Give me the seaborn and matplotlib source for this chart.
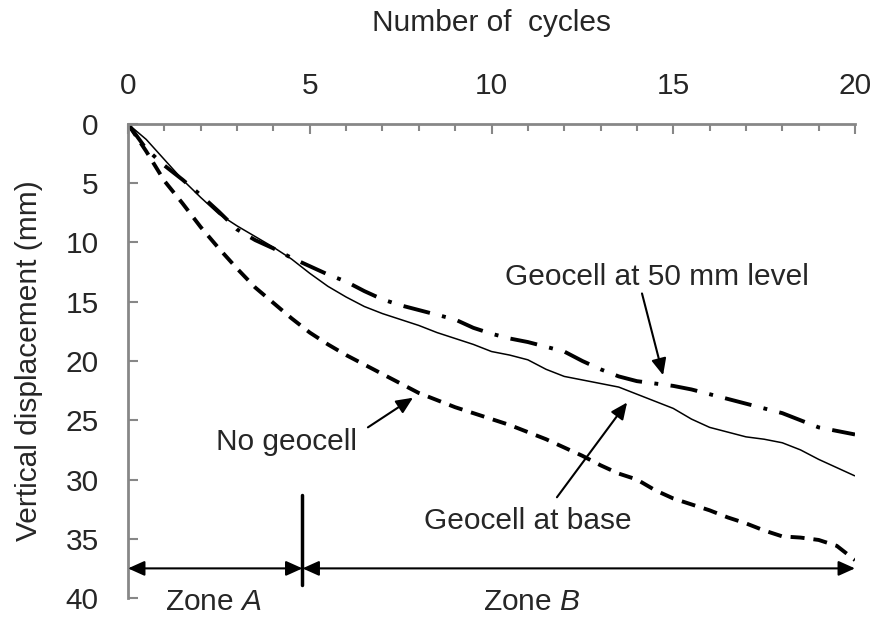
import matplotlib
matplotlib.use("Agg")
import matplotlib.pyplot as plt
import numpy as np
import pandas as pd
import seaborn as sns

# Settlement vs. loading cycles for three test configurations
cycles = [0, 0.5, 1, 1.5, 2, 2.5, 3, 3.5, 4, 4.5, 5, 5.5, 6, 6.5, 7, 7.5, 8, 8.5, 9, 9.5,
          10, 10.5, 11, 11.5, 12, 12.5, 13, 13.5, 14, 14.5, 15, 15.5, 16, 16.5, 17, 17.5,
          18, 18.5, 19, 19.5, 20]

no_geocell = [0, 2.3, 4.8, 6.7, 8.7, 10.5, 12.2, 13.8, 15.1, 16.4, 17.6, 18.6, 19.5, 20.3,
              21.1, 21.9, 22.7, 23.3, 23.9, 24.4, 24.9, 25.4, 26.0, 26.6, 27.3, 28.0, 28.8,
              29.5, 30.0, 30.9, 31.6, 32.1, 32.6, 33.2, 33.7, 34.3, 34.8, 34.9, 35.1, 35.6, 36.8]

geocell_base = [0, 1.3, 3.0, 4.7, 6.2, 7.6, 8.6, 9.5, 10.4, 11.4, 12.6, 13.7, 14.6, 15.4,
                16.0, 16.5, 17.0, 17.6, 18.1, 18.6, 19.2, 19.5, 19.9, 20.7, 21.3, 21.6, 21.9,
                22.2, 22.8, 23.4, 24.0, 24.9, 25.6, 26.0, 26.4, 26.6, 26.9, 27.5, 28.3, 29.0, 29.7]

geocell_50mm = [0, 2.1, 3.5, 4.7, 6.0, 7.4, 8.9, 9.8, 10.5, 11.3, 12.0, 12.7, 13.3, 14.1,
                14.8, 15.3, 15.7, 16.1, 16.5, 17.2, 17.7, 18.1, 18.4, 18.8, 19.2, 20.0, 20.7,
                21.3, 21.7, 21.9, 22.1, 22.4, 22.8, 23.2, 23.6, 24.0, 24.4, 25.0, 25.6, 25.9, 26.2]

x_ticks = [0, 5, 10, 15, 20]
y_ticks = [0, 5, 10, 15, 20, 25, 30, 35, 40]
zone_boundary = 4.8

sns.set_style("white")
plt.rcParams["font.family"] = ["Liberation Sans", "DejaVu Sans"]
plt.rcParams["mathtext.fontset"] = "custom"
plt.rcParams["mathtext.it"] = "Liberation Sans:italic"
plt.rcParams["mathtext.rm"] = "Liberation Sans"

FS = 21.5
GREY = "#878787"

fig = plt.figure(figsize=(8.78, 6.19), dpi=100)
ax = fig.add_axes([0.1458, 0.0339, 0.828, 0.7658])

df = pd.DataFrame({"cycles": cycles, "none": no_geocell,
                   "base": geocell_base, "mid": geocell_50mm})

sns.lineplot(data=df, x="cycles", y="none", ax=ax, color="black", lw=2.8)
sns.lineplot(data=df, x="cycles", y="base", ax=ax, color="black", lw=1.1)
sns.lineplot(data=df, x="cycles", y="mid", ax=ax, color="black", lw=2.8)
lines = ax.get_lines()
lines[0].set_dashes([3.6, 2.3])
lines[2].set_dashes([7, 3.2, 1, 3.2])
for ln in lines:
    ln.set_solid_capstyle("butt")
    ln.set_dash_capstyle("butt")

ax.set_xlim(0, 20)
ax.set_ylim(40, 0)
ax.xaxis.tick_top()
ax.xaxis.set_label_position("top")
ax.set_xticks(x_ticks)
ax.set_xticks(np.arange(0, 21, 1), minor=True)
ax.set_yticks(y_ticks)

for side in ["right", "bottom"]:
    ax.spines[side].set_visible(False)
for side in ["top", "left"]:
    ax.spines[side].set_color(GREY)
    ax.spines[side].set_linewidth(2)

ax.tick_params(axis="x", which="major", direction="in", length=7, width=1.5,
               color=GREY, labelsize=FS, pad=17, top=True, bottom=False)
ax.tick_params(axis="x", which="minor", direction="in", length=5, width=1.5,
               color=GREY, top=True, bottom=False)
ax.tick_params(axis="y", which="major", direction="in", length=7, width=1.5,
               color=GREY, labelsize=FS, pad=21, left=True, right=False)

ax.set_xlabel("Number of  cycles", fontsize=FS, labelpad=30)
ax.set_ylabel("Vertical displacement (mm)", fontsize=FS, labelpad=16)

arrow_kw = dict(arrowstyle="-|>,head_length=1.0,head_width=0.45", color="black",
                lw=1.5, shrinkA=0, shrinkB=0)

ax.annotate("", xy=(14.72, 21.2), xytext=(14.14, 14.3), arrowprops=arrow_kw)
ax.annotate("", xy=(13.73, 23.5), xytext=(11.8, 31.5), arrowprops=arrow_kw)
ax.annotate("", xy=(7.84, 23.1), xytext=(6.6, 25.6), arrowprops=arrow_kw)

ax.text(14.55, 12.95, "Geocell at 50 mm level", fontsize=FS, ha="center", va="center")
ax.text(4.37, 26.8, "No geocell", fontsize=FS, ha="center", va="center")
ax.text(11.0, 33.5, "Geocell at base", fontsize=FS, ha="center", va="center")

# Zone markers along the bottom
zone_kw = dict(arrowstyle="<|-|>,head_length=1.0,head_width=0.45", color="black",
               lw=1.5, shrinkA=0, shrinkB=0)
ax.annotate("", xy=(zone_boundary, 37.5), xytext=(0, 37.5), arrowprops=zone_kw,
            annotation_clip=False)
ax.annotate("", xy=(20, 37.5), xytext=(zone_boundary, 37.5), arrowprops=zone_kw,
            annotation_clip=False)
ax.plot([zone_boundary, zone_boundary], [31.3, 38.9], color="black", lw=2.5,
        clip_on=False)
ax.text(2.35, 40.3, "Zone $\\mathit{A}$", fontsize=FS, ha="center", va="center",
        clip_on=False)
ax.text(11.1, 40.3, "Zone $\\mathit{B}$", fontsize=FS, ha="center", va="center",
        clip_on=False)

fig.savefig("out.png", dpi=100)
